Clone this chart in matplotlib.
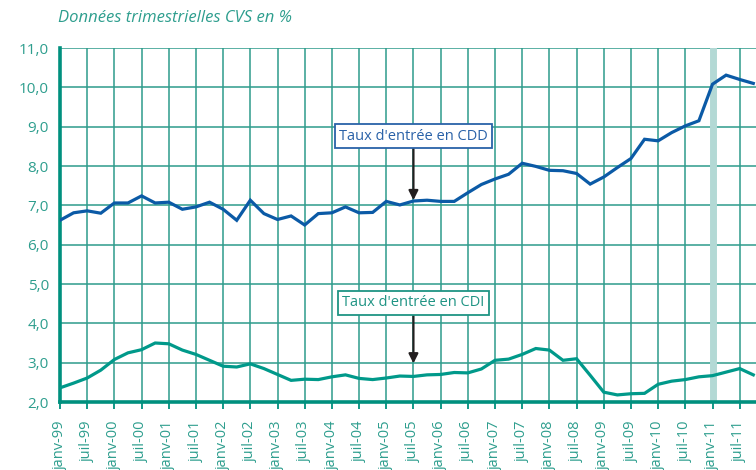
import matplotlib
matplotlib.use("Agg")
import matplotlib.pyplot as plt

plt.rcParams['font.family'] = ['Open Sans', 'DejaVu Sans']

cdd = [6.62, 6.81, 6.86, 6.80, 7.06, 7.06, 7.24, 7.06, 7.08, 6.90,
       6.96, 7.08, 6.90, 6.62, 7.13, 6.79, 6.64, 6.73, 6.50, 6.79,
       6.81, 6.96, 6.81, 6.82, 7.10, 7.01, 7.11, 7.13, 7.10, 7.10,
       7.32, 7.53, 7.67, 7.79, 8.07, 7.99, 7.89, 7.88, 7.81, 7.54,
       7.72, 7.96, 8.19, 8.68, 8.64, 8.85, 9.02, 9.15, 10.08, 10.31,
       10.20, 10.10]
cdi = [2.36, 2.48, 2.61, 2.81, 3.08, 3.25, 3.33, 3.50, 3.48, 3.32,
       3.21, 3.06, 2.91, 2.89, 2.97, 2.85, 2.70, 2.55, 2.58, 2.57,
       2.64, 2.69, 2.60, 2.57, 2.61, 2.66, 2.65, 2.69, 2.70, 2.75,
       2.74, 2.84, 3.06, 3.09, 3.21, 3.36, 3.32, 3.06, 3.10, 2.68,
       2.25, 2.18, 2.21, 2.22, 2.45, 2.53, 2.57, 2.64, 2.67, 2.76,
       2.85, 2.69]
years = ['99', '00', '01', '02', '03', '04', '05', '06', '07', '08', '09', '10', '11']
tick_labels = []
for y in years:
    tick_labels += ['janv-' + y, 'juil-' + y]
yticks = [2, 3, 4, 5, 6, 7, 8, 9, 10, 11]

teal = '#2e9e8e'
grid_c = '#2f9c8c'
blue = '#0b5aa6'
cdi_c = '#00998a'

fig = plt.figure(figsize=(7.56, 4.70), dpi=100)
ax = fig.add_axes([60/756, 1-402/470, 1-60/756, (402-48)/470])

x = list(range(len(cdd)))
ax.set_xlim(0, 51.2)
ax.set_ylim(2, 11)

xt = list(range(0, 2*len(tick_labels), 2))
ax.set_xticks(xt)
ax.set_xticklabels(tick_labels, rotation=90, color=teal, fontsize=10.5, va='top')
ax.set_yticks(yticks)
ax.set_yticklabels([f"{v:.1f}".replace('.', ',') for v in yticks], color=teal, fontsize=11)

for v in xt:
    ax.axvline(v, color=grid_c, lw=1.3, alpha=0.85, zorder=1)
for v in yticks:
    ax.axhline(v, color=grid_c, lw=1.3, alpha=0.85, zorder=1)
ax.axvline(48, color='#b3d9d5', lw=5, zorder=1.5)

ax.plot(x, cdd, color=blue, lw=2.3, zorder=3, solid_joinstyle='miter')
ax.plot(x, cdi, color=cdi_c, lw=2.3, zorder=3, solid_joinstyle='miter')

for s in ['top', 'right']:
    ax.spines[s].set_visible(False)
ax.spines['left'].set_color('#00907e')
ax.spines['left'].set_linewidth(2.6)
ax.spines['bottom'].set_color('#00907e')
ax.spines['bottom'].set_linewidth(2.6)
ax.tick_params(axis='x', length=5, width=1.3, color='#00907e', pad=8)
ax.tick_params(axis='y', length=0, pad=8)

ax.annotate("Taux d'entrée en CDD", xy=(26, 7.13), xytext=(26, 8.76),
            ha='center', va='center', color='#2a62a8', fontsize=10.5,
            bbox=dict(boxstyle='square,pad=0.3', fc='white', ec='#2a62a8', lw=1.3),
            arrowprops=dict(arrowstyle='-|>', color='#231f20', lw=1.6, mutation_scale=14,
                            shrinkA=0, shrinkB=0), zorder=5)
ax.annotate("Taux d'entrée en CDI", xy=(26, 2.98), xytext=(26, 4.52),
            ha='center', va='center', color='#1f9484', fontsize=10.5,
            bbox=dict(boxstyle='square,pad=0.3', fc='white', ec='#1f9484', lw=1.3),
            arrowprops=dict(arrowstyle='-|>', color='#231f20', lw=1.6, mutation_scale=14,
                            shrinkA=0, shrinkB=0), zorder=5)

fig.text(58/756, 1-18/470, 'Données trimestrielles CVS en %', color=teal,
         fontsize=12, style='italic', va='center', ha='left')

fig.savefig('out.png', dpi=100)
